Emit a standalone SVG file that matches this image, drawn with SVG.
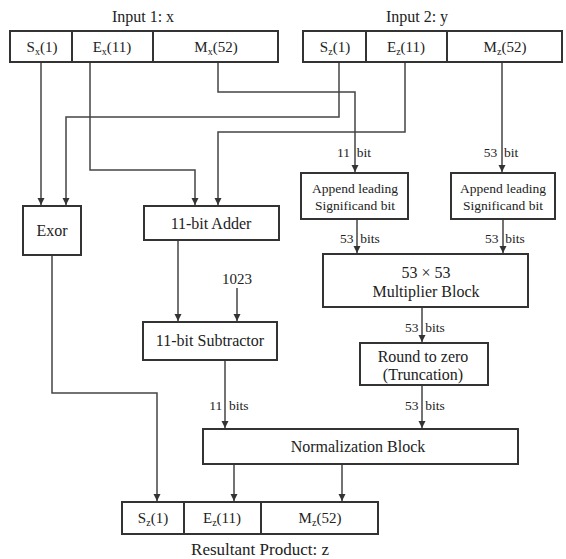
<svg xmlns="http://www.w3.org/2000/svg" width="566" height="559" viewBox="0 0 566 559">
<style>
text{font-family:"Liberation Serif","Times New Roman",serif;font-size:16px;fill:#222;text-anchor:middle}
.f{font-size:15px}
.m{font-size:13.5px}
.l{font-size:13.5px}
.b{fill:#fff;stroke:#333;stroke-width:2}
.c{fill:none;stroke:#444;stroke-width:1.5}
.s{font-size:10px}
</style>
<defs>
<marker id="ah" markerWidth="8" markerHeight="8" refX="7" refY="4" orient="auto" markerUnits="userSpaceOnUse">
<path d="M0,0.5 L7,4 L0,7.5 Z" fill="#333"/>
</marker>
</defs>
<rect width="566" height="559" fill="#fff"/>
<g id="connectors">
<path class="c" d="M41,62 V205" marker-end="url(#ah)"/>
<path class="c" d="M339,62 V117 H66 V205" marker-end="url(#ah)"/>
<path class="c" d="M90,62 V170 H195 V205" marker-end="url(#ah)"/>
<path class="c" d="M405,62 V132 H218 V205" marker-end="url(#ah)"/>
<path class="c" d="M218,62 V92 H355 V172" marker-end="url(#ah)"/>
<path class="c" d="M502,62 V172" marker-end="url(#ah)"/>
<path class="c" d="M357,219 V253" marker-end="url(#ah)"/>
<path class="c" d="M503,219 V253" marker-end="url(#ah)"/>
<path class="c" d="M422,307 V342" marker-end="url(#ah)"/>
<path class="c" d="M422,385 V428" marker-end="url(#ah)"/>
<path class="c" d="M178,240 V321" marker-end="url(#ah)"/>
<path class="c" d="M237,288 V321" marker-end="url(#ah)"/>
<path class="c" d="M225,360 V428" marker-end="url(#ah)"/>
<path class="c" d="M52,255 V393 H157 V501" marker-end="url(#ah)"/>
<path class="c" d="M234,464 V501" marker-end="url(#ah)"/>
<path class="c" d="M342,464 V501" marker-end="url(#ah)"/>
<text class="l" x="354" y="157" xml:space="preserve">11  bit</text>
<text class="l" x="501" y="157" xml:space="preserve">53  bit</text>
<text class="l" x="360" y="243" xml:space="preserve">53  bits</text>
<text class="l" x="505" y="243" xml:space="preserve">53  bits</text>
<text class="l" x="425" y="332" xml:space="preserve">53  bits</text>
<text class="l" x="425" y="410" xml:space="preserve">53  bits</text>
<text class="l" x="229" y="410" xml:space="preserve">11  bits</text>
<text class="f" x="237" y="284">1023</text>
</g>
<g id="input1">
<text x="143" y="22">Input 1: x</text>
<rect class="b" x="10" y="31" width="268" height="31"/>
<line class="b" x1="72" y1="31" x2="72" y2="62"/>
<line class="b" x1="153" y1="31" x2="153" y2="62"/>
<text class="f" x="42" y="52">S<tspan class="s" dy="3">x</tspan><tspan dy="-3">(1)</tspan></text>
<text class="f" x="112" y="52">E<tspan class="s" dy="3">x</tspan><tspan dy="-3">(11)</tspan></text>
<text class="f" x="216" y="52">M<tspan class="s" dy="3">x</tspan><tspan dy="-3">(52)</tspan></text>
</g>
<g id="input2">
<text x="417" y="22">Input 2: y</text>
<rect class="b" x="303" y="31" width="259" height="31"/>
<line class="b" x1="366" y1="31" x2="366" y2="62"/>
<line class="b" x1="447" y1="31" x2="447" y2="62"/>
<text class="f" x="335" y="52">S<tspan class="s" dy="3">z</tspan><tspan dy="-3">(1)</tspan></text>
<text class="f" x="406" y="52">E<tspan class="s" dy="3">z</tspan><tspan dy="-3">(11)</tspan></text>
<text class="f" x="505" y="52">M<tspan class="s" dy="3">z</tspan><tspan dy="-3">(52)</tspan></text>
</g>
<g id="exor">
<rect class="b" x="23" y="206" width="58" height="49"/>
<text x="52" y="236">Exor</text>
</g>
<g id="adder">
<rect class="b" x="144" y="206" width="135" height="34"/>
<text x="211" y="229">11-bit Adder</text>
</g>
<g id="append1">
<rect class="b" x="301" y="173" width="107" height="46"/>
<text class="m" x="355" y="193">Append leading</text>
<text class="m" x="355" y="210">Significand bit</text>
</g>
<g id="append2">
<rect class="b" x="451" y="173" width="104" height="46"/>
<text class="m" x="503" y="193">Append leading</text>
<text class="m" x="503" y="210">Significand bit</text>
</g>
<g id="multiplier">
<rect class="b" x="323" y="254" width="205" height="53"/>
<text x="426" y="278">53 × 53</text>
<text x="426" y="297">Multiplier Block</text>
</g>
<g id="subtractor">
<rect class="b" x="143" y="322" width="134" height="38"/>
<text x="210" y="346">11-bit Subtractor</text>
</g>
<g id="round">
<rect class="b" x="360" y="343" width="128" height="42"/>
<text x="423" y="362">Round to zero</text>
<text x="423" y="380">(Truncation)</text>
</g>
<g id="normalization">
<rect class="b" x="203" y="429" width="315" height="35"/>
<text x="358" y="452">Normalization Block</text>
</g>
<g id="output">
<rect class="b" x="122" y="502" width="256" height="32"/>
<line class="b" x1="184" y1="502" x2="184" y2="534"/>
<line class="b" x1="261" y1="502" x2="261" y2="534"/>
<text class="f" x="153" y="523">S<tspan class="s" dy="3">z</tspan><tspan dy="-3">(1)</tspan></text>
<text class="f" x="222" y="523">E<tspan class="s" dy="3">z</tspan><tspan dy="-3">(11)</tspan></text>
<text class="f" x="320" y="523">M<tspan class="s" dy="3">z</tspan><tspan dy="-3">(52)</tspan></text>
<text x="260" y="555" style="font-size:17px">Resultant Product: z</text>
</g>
</svg>
